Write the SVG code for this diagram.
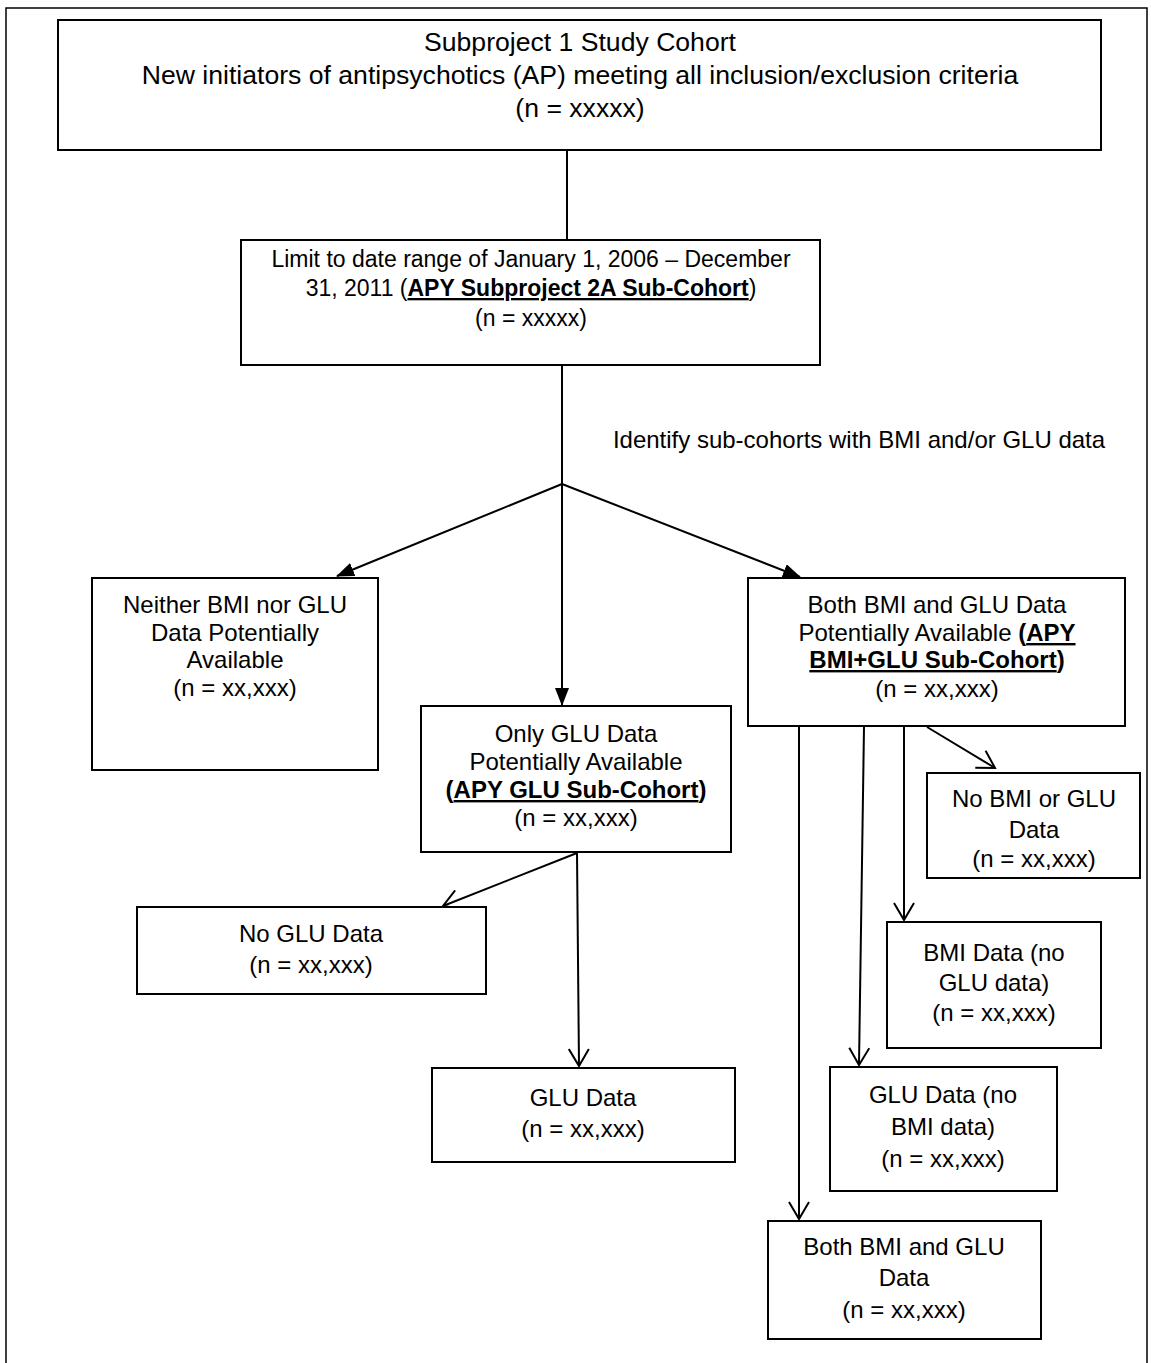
<svg xmlns="http://www.w3.org/2000/svg" width="1151" height="1363" viewBox="0 0 1151 1363">
<defs>
<style>
.box{fill:#fff;stroke:#000;stroke-width:2}
.t{font-family:"Liberation Sans",Arial,sans-serif;font-size:24px;fill:#000;text-anchor:middle}
.big{font-size:26.6px}
.mid{font-size:23px}
.b{font-weight:bold}
.u{text-decoration:underline}
.c{stroke:#000;stroke-width:2;fill:none}
</style>
<marker id="fa" viewBox="0 0 18 14" refX="17" refY="7" markerWidth="18" markerHeight="14" markerUnits="userSpaceOnUse" orient="auto"><path d="M0,0 L18,7 L0,14 z" fill="#000"/></marker>
<marker id="oa" viewBox="0 0 20 22" refX="18" refY="11" markerWidth="20" markerHeight="22" markerUnits="userSpaceOnUse" orient="auto"><path d="M1,1 L18,11 L1,21" fill="none" stroke="#000" stroke-width="2"/></marker>
</defs>
<rect x="0" y="0" width="1151" height="1363" fill="#fff"/>
<rect x="6" y="8" width="1141" height="1400" fill="none" stroke="#000" stroke-width="1.5"/>

<g id="connectors">
<line class="c" x1="567" y1="150" x2="567" y2="240"/>
<line class="c" x1="562" y1="365" x2="562" y2="484"/>
<line class="c" x1="562" y1="484" x2="337" y2="576" marker-end="url(#fa)"/>
<line class="c" x1="562" y1="484" x2="562" y2="705" marker-end="url(#fa)"/>
<line class="c" x1="562" y1="484" x2="800" y2="577" marker-end="url(#fa)"/>
<line class="c" x1="577" y1="853" x2="443" y2="906" marker-end="url(#oa)"/>
<line class="c" x1="577" y1="853" x2="579" y2="1066" marker-end="url(#oa)"/>
<line class="c" x1="927" y1="727" x2="995" y2="768" marker-end="url(#oa)"/>
<line class="c" x1="904" y1="727" x2="904" y2="920" marker-end="url(#oa)"/>
<line class="c" x1="864" y1="727" x2="859" y2="1065" marker-end="url(#oa)"/>
<line class="c" x1="799" y1="727" x2="799" y2="1219" marker-end="url(#oa)"/>
<text class="t" x="859" y="448">Identify sub-cohorts with BMI and/or GLU data</text>
</g>

<g id="n1">
<rect class="box" x="58" y="20" width="1043" height="130"/>
<text class="t big" x="580" y="51">Subproject 1 Study Cohort</text>
<text class="t big" x="580" y="84">New initiators of antipsychotics (AP) meeting all inclusion/exclusion criteria</text>
<text class="t big" x="580" y="117">(n = xxxxx)</text>
</g>

<g id="n2">
<rect class="box" x="241" y="240" width="579" height="125"/>
<text class="t mid" x="531" y="267">Limit to date range of January 1, 2006 – December</text>
<text class="t mid" x="531" y="296">31, 2011 (<tspan class="b u">APY Subproject 2A Sub-Cohort</tspan>)</text>
<text class="t mid" x="531" y="326">(n = xxxxx)</text>
</g>

<g id="n3">
<rect class="box" x="92" y="578" width="286" height="192"/>
<text class="t" x="235" y="613">Neither BMI nor GLU</text>
<text class="t" x="235" y="641">Data Potentially</text>
<text class="t" x="235" y="668">Available</text>
<text class="t" x="235" y="696">(n = xx,xxx)</text>
</g>

<g id="n4">
<rect class="box" x="421" y="706" width="310" height="146"/>
<text class="t" x="576" y="742">Only GLU Data</text>
<text class="t" x="576" y="770">Potentially Available</text>
<text class="t" x="576" y="798"><tspan class="b">(</tspan><tspan class="b u">APY GLU Sub-Cohort</tspan><tspan class="b">)</tspan></text>
<text class="t" x="576" y="826">(n = xx,xxx)</text>
</g>

<g id="n5">
<rect class="box" x="748" y="578" width="377" height="148"/>
<text class="t" x="937" y="613">Both BMI and GLU Data</text>
<text class="t" x="937" y="641">Potentially Available <tspan class="b">(</tspan><tspan class="b u">APY</tspan></text>
<text class="t" x="937" y="668"><tspan class="b u">BMI+GLU Sub-Cohort</tspan><tspan class="b">)</tspan></text>
<text class="t" x="937" y="697">(n = xx,xxx)</text>
</g>

<g id="n6">
<rect class="box" x="927" y="773" width="213" height="105"/>
<text class="t" x="1034" y="807">No BMI or GLU</text>
<text class="t" x="1034" y="838">Data</text>
<text class="t" x="1034" y="867">(n = xx,xxx)</text>
</g>

<g id="n7">
<rect class="box" x="137" y="907" width="349" height="87"/>
<text class="t" x="311" y="942">No GLU Data</text>
<text class="t" x="311" y="973">(n = xx,xxx)</text>
</g>

<g id="n8">
<rect class="box" x="887" y="922" width="214" height="126"/>
<text class="t" x="994" y="961">BMI Data (no</text>
<text class="t" x="994" y="991">GLU data)</text>
<text class="t" x="994" y="1021">(n = xx,xxx)</text>
</g>

<g id="n9">
<rect class="box" x="432" y="1068" width="303" height="94"/>
<text class="t" x="583" y="1106">GLU Data</text>
<text class="t" x="583" y="1137">(n = xx,xxx)</text>
</g>

<g id="n10">
<rect class="box" x="830" y="1067" width="227" height="124"/>
<text class="t" x="943" y="1103">GLU Data (no</text>
<text class="t" x="943" y="1135">BMI data)</text>
<text class="t" x="943" y="1167">(n = xx,xxx)</text>
</g>

<g id="n11">
<rect class="box" x="768" y="1221" width="273" height="118"/>
<text class="t" x="904" y="1255">Both BMI and GLU</text>
<text class="t" x="904" y="1286">Data</text>
<text class="t" x="904" y="1318">(n = xx,xxx)</text>
</g>
</svg>
